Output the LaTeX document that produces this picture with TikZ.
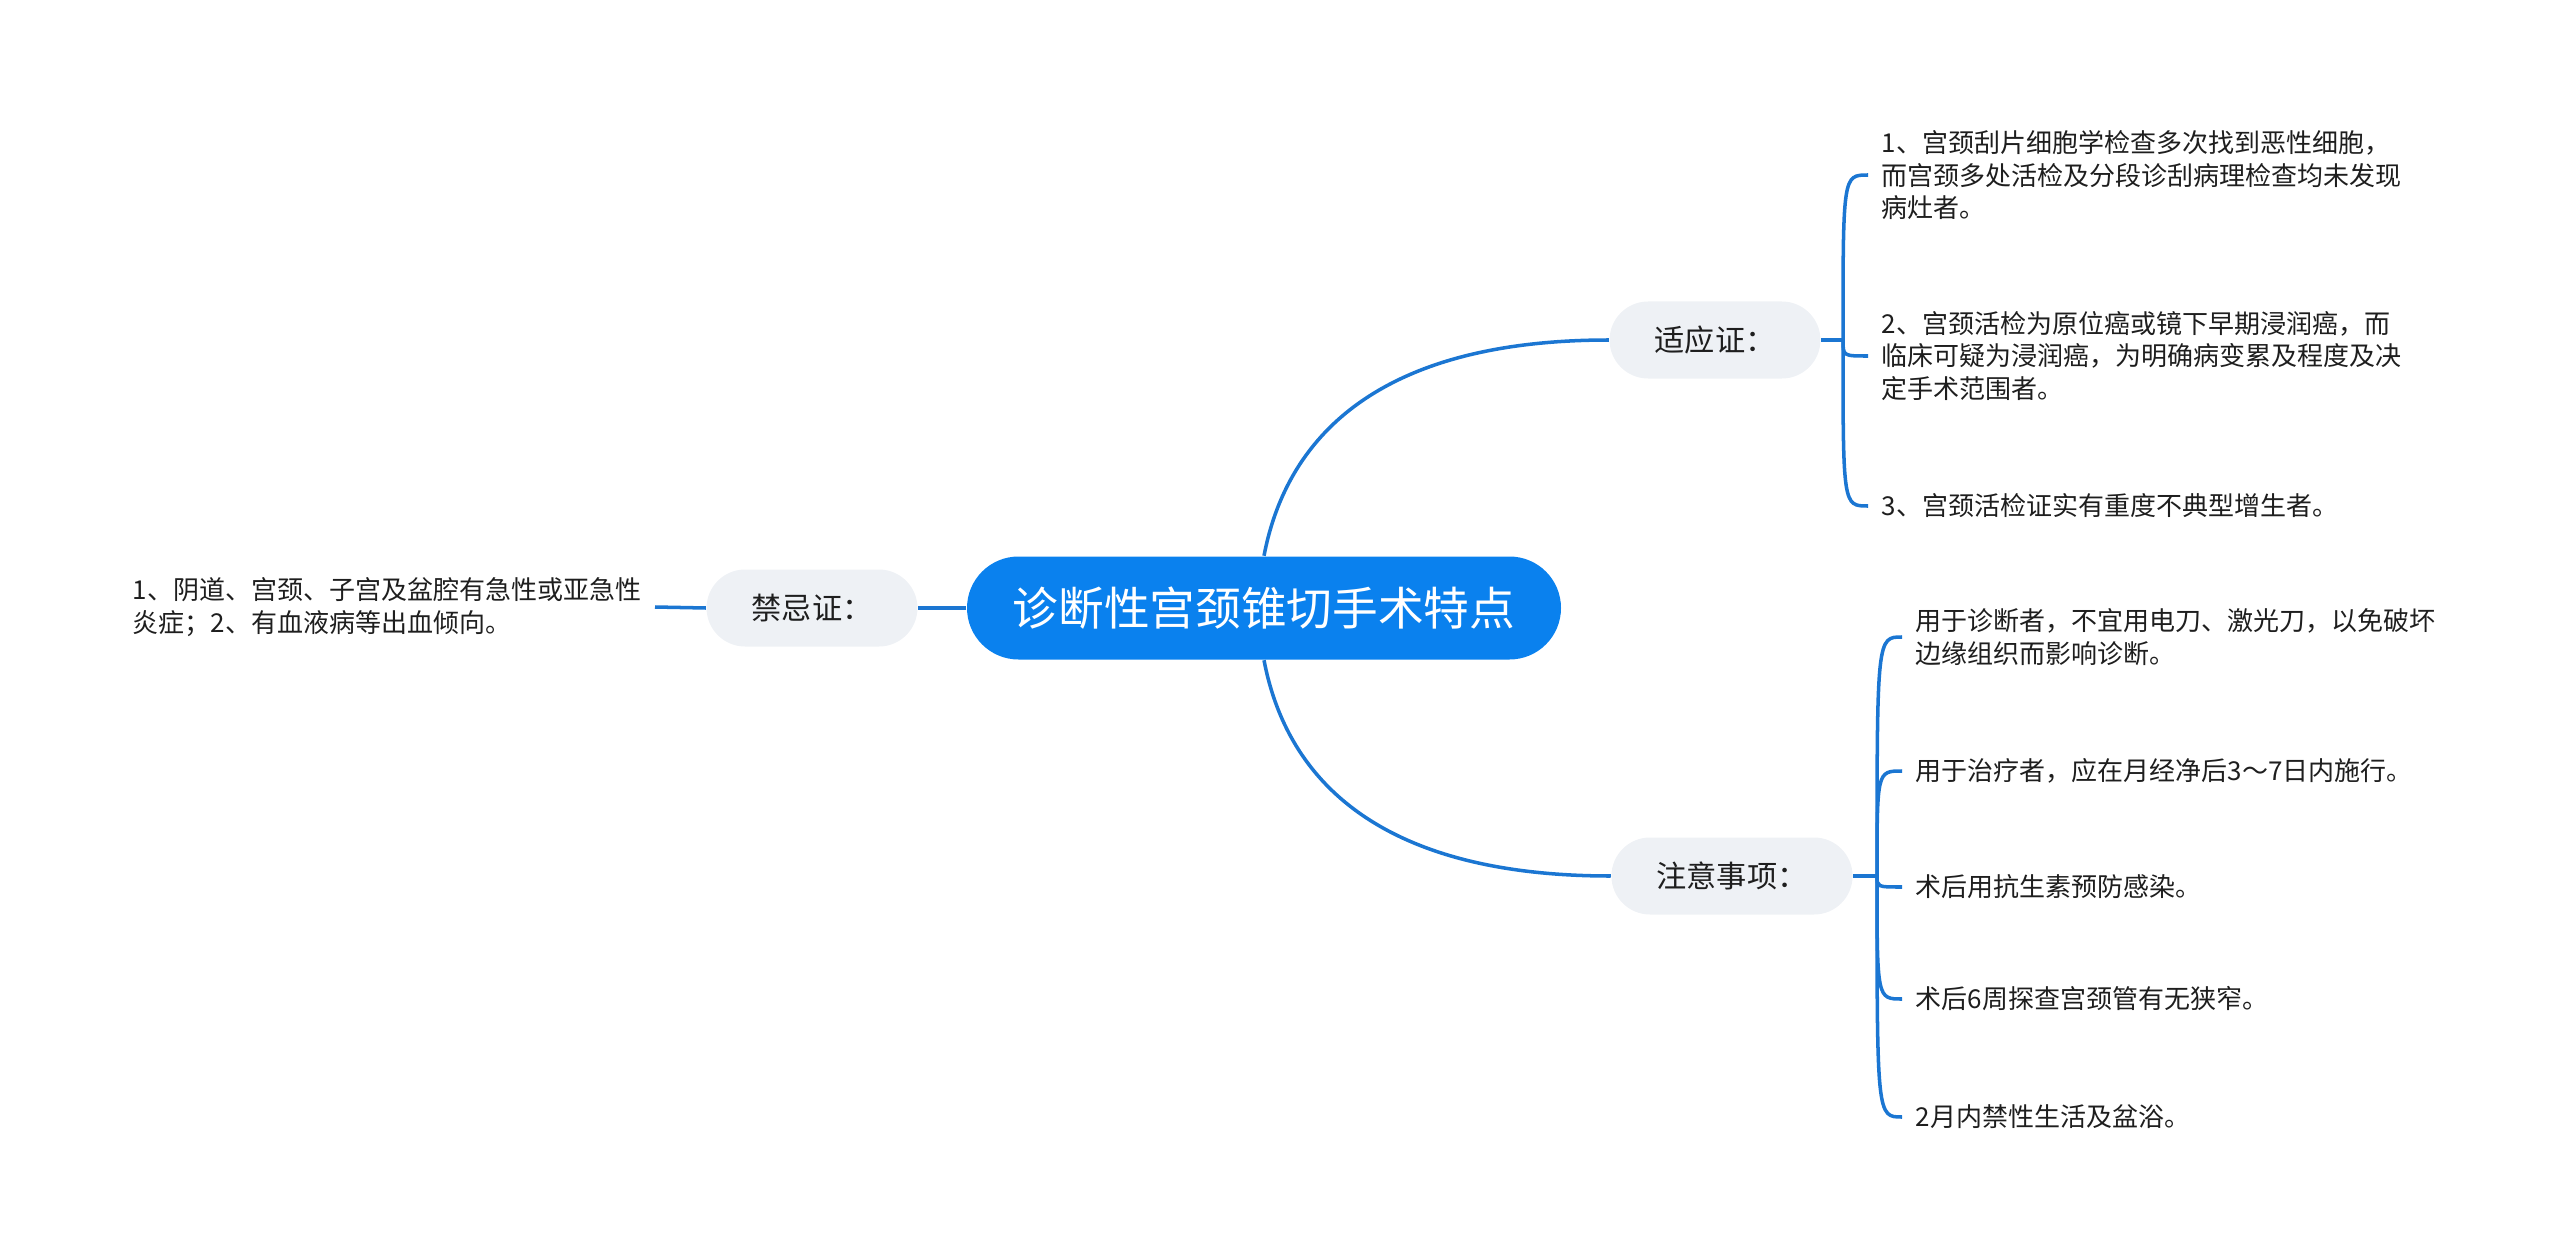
\documentclass[tikz,border=0pt]{standalone}
\usepackage{fontspec}
\setmainfont{Noto Sans CJK SC}
\usepackage{xcolor}
\usetikzlibrary{positioning}
\definecolor{blue1}{RGB}{10,129,238}
\definecolor{line1}{RGB}{27,118,210}
\definecolor{grey1}{RGB}{238,241,245}
\definecolor{text1}{RGB}{30,30,30}

\begin{document}
\begin{tikzpicture}[
    root/.style={fill=blue1, text=white, rounded corners=0.515cm, minimum width=5.94cm, minimum height=1.03cm, font=\fontsize{13pt}{15pt}\selectfont},
    topic/.style={fill=grey1, text=text1, rounded corners=0.385cm, minimum height=0.77cm, inner xsep=0.45cm, font=\fontsize{8.6pt}{10pt}\selectfont},
    leaf/.style={text=text1, align=left, inner xsep=0.13cm, inner ysep=0pt, font=\fontsize{7.4pt}{9.3pt}\selectfont},
    link/.style={draw=line1, line width=1pt}
]
    \useasboundingbox (0,0) rectangle (25.6,-12.56);

    \node[root, name=root] at (12.64,-6.08) {诊断性宫颈锥切手术特点};
    \node[topic, name=yz] at (17.15,-3.40) {适应证：};
    \node[topic, name=zy] at (17.32,-8.76) {注意事项：};
    \node[topic, name=jj] at (8.12,-6.08) {禁忌证：};

    % left side
    \node[leaf, name=jjA, anchor=east] at (6.55,-6.07) {1、阴道、宫颈、子宫及盆腔有急性或亚急性\\炎症；2、有血液病等出血倾向。};
    \draw[link] (root.west) -- (jj.east);
    \draw[link] (jj.west) -- (jjA.east);

    % main branches
    \draw[link] (root.north) .. controls (12.90,-4.20) and (14.00,-3.40) .. (yz.west);
    \draw[link] (root.south) .. controls (12.90,-7.96) and (14.00,-8.76) .. (zy.west);

    \coordinate (yzb) at (18.43,-3.40);
    \coordinate (zyb) at (18.77,-8.76);
    \draw[link] (yz.east) -- (yzb);
    \draw[link] (zy.east) -- (zyb);

    \foreach \n/\y/\t in {
        1/1.75/{1、宫颈刮片细胞学检查多次找到恶性细胞，\\而宫颈多处活检及分段诊刮病理检查均未发现\\病灶者。},
        2/3.56/{2、宫颈活检为原位癌或镜下早期浸润癌，而\\临床可疑为浸润癌，为明确病变累及程度及决\\定手术范围者。},
        3/5.06/{3、宫颈活检证实有重度不典型增生者。}}
    {
        \node[leaf, name=A\n, anchor=west] at (18.68,-\y) {\t};
        \draw[link] (yzb) .. controls (yzb |- A\n.west) and (yzb |- A\n.west) .. (A\n.west);
    };

    \foreach \n/\y/\t in {
        1/6.37/{用于诊断者，不宜用电刀、激光刀，以免破坏\\边缘组织而影响诊断。},
        2/7.71/{用于治疗者，应在月经净后3～7日内施行。},
        3/8.87/{术后用抗生素预防感染。},
        4/9.99/{术后6周探查宫颈管有无狭窄。},
        5/11.17/{2月内禁性生活及盆浴。}}
    {
        \node[leaf, name=B\n, anchor=west] at (19.02,-\y) {\t};
        \draw[link] (zyb) .. controls (zyb |- B\n.west) and (zyb |- B\n.west) .. (B\n.west);
    };
\end{tikzpicture}
\end{document}
